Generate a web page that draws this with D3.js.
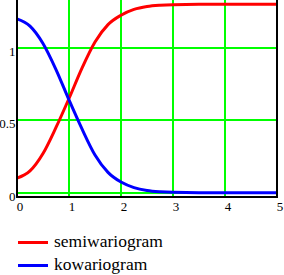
<!DOCTYPE html>
<html>
<head>
<meta charset="utf-8">
<script src="https://cdn.jsdelivr.net/npm/d3@7"></script>
<style>
  body { margin: 0; background: #fff; }
  svg { display: block; }
  text { font-family: "Liberation Serif", "Times New Roman", "DejaVu Serif", serif; }
</style>
</head>
<body>
<svg width="284" height="275"></svg>
<script>
const width = 284;
const height = 275;

// lag distance h
const lags = [0, 0.25, 0.5, 0.75, 1, 1.25, 1.5, 1.75, 2, 2.25, 2.5, 2.75, 3, 3.5, 4, 4.5, 5];
// values
const semiwariogram = [0.10, 0.15, 0.27, 0.45, 0.65, 0.86, 1.04, 1.16, 1.225, 1.265, 1.285, 1.294, 1.298, 1.30, 1.30, 1.30, 1.30];
const kowariogram = [1.20, 1.15, 1.03, 0.85, 0.64, 0.44, 0.26, 0.14, 0.073, 0.035, 0.015, 0.006, 0.002, 0, 0, 0, 0];

const xTicks = [0, 1, 2, 3, 4, 5];
const yTicks = [0, 0.5, 1];
const seriesNames = ["semiwariogram", "kowariogram"];
const seriesColors = ["#ff0000", "#0000ff"];

const svg = d3.select("svg");

const xScale = d3.scaleLinear().domain([0, 5]).range([17, 277]);
const yScale = d3.scaleLinear().domain([-0.03, 1.33]).range([197, 0]);

// grid
svg.append("g")
  .attr("shape-rendering", "crispEdges")
  .selectAll("line")
  .data(xTicks.slice(1, -1))
  .enter().append("line")
  .attr("x1", d => Math.round(xScale(d))).attr("x2", d => Math.round(xScale(d)))
  .attr("y1", 0).attr("y2", 197)
  .attr("stroke", "#00ff00").attr("stroke-width", 2);

svg.append("g")
  .attr("shape-rendering", "crispEdges")
  .selectAll("line")
  .data(yTicks)
  .enter().append("line")
  .attr("x1", 17).attr("x2", 277)
  .attr("y1", d => Math.round(yScale(d))).attr("y2", d => Math.round(yScale(d)))
  .attr("stroke", "#00ff00").attr("stroke-width", 2);

// curves
const line = d3.line()
  .x(d => xScale(d[0]))
  .y(d => yScale(d[1]))
  .curve(d3.curveMonotoneX);

[semiwariogram, kowariogram].forEach((vals, i) => {
  svg.append("path")
    .datum(lags.map((h, j) => [h, vals[j]]))
    .attr("fill", "none")
    .attr("stroke", seriesColors[i])
    .attr("stroke-width", 3)
    .attr("d", line);
});

// frame
const frame = svg.append("g").attr("shape-rendering", "crispEdges");
frame.append("line").attr("x1", 17).attr("x2", 17).attr("y1", 0).attr("y2", 198)
  .attr("stroke", "#000").attr("stroke-width", 2);
frame.append("line").attr("x1", 277).attr("x2", 277).attr("y1", 0).attr("y2", 198)
  .attr("stroke", "#000").attr("stroke-width", 2);
frame.append("line").attr("x1", 16).attr("x2", 278).attr("y1", 197).attr("y2", 197)
  .attr("stroke", "#000").attr("stroke-width", 2);

// tick labels
svg.append("g")
  .selectAll("text")
  .data(xTicks)
  .enter().append("text")
  .attr("x", d => xScale(d) + 3)
  .attr("y", 211)
  .attr("text-anchor", "middle")
  .attr("font-size", 13)
  .text(d => d);

svg.append("g")
  .selectAll("text")
  .data(yTicks)
  .enter().append("text")
  .attr("x", 15.5)
  .attr("y", d => yScale(d) + 8)
  .attr("text-anchor", "end")
  .attr("font-size", 13)
  .text(d => d);

// legend
const legend = svg.append("g")
  .selectAll("g")
  .data(seriesNames)
  .enter().append("g")
  .attr("transform", (d, i) => "translate(0," + (242 + i * 23) + ")");

legend.append("line")
  .attr("x1", 18).attr("x2", 48)
  .attr("shape-rendering", "crispEdges")
  .attr("stroke", (d, i) => seriesColors[i])
  .attr("stroke-width", 3);

legend.append("text")
  .attr("x", 54)
  .attr("y", 5)
  .attr("font-size", 17.5)
  .text(d => d);
</script>
</body>
</html>
